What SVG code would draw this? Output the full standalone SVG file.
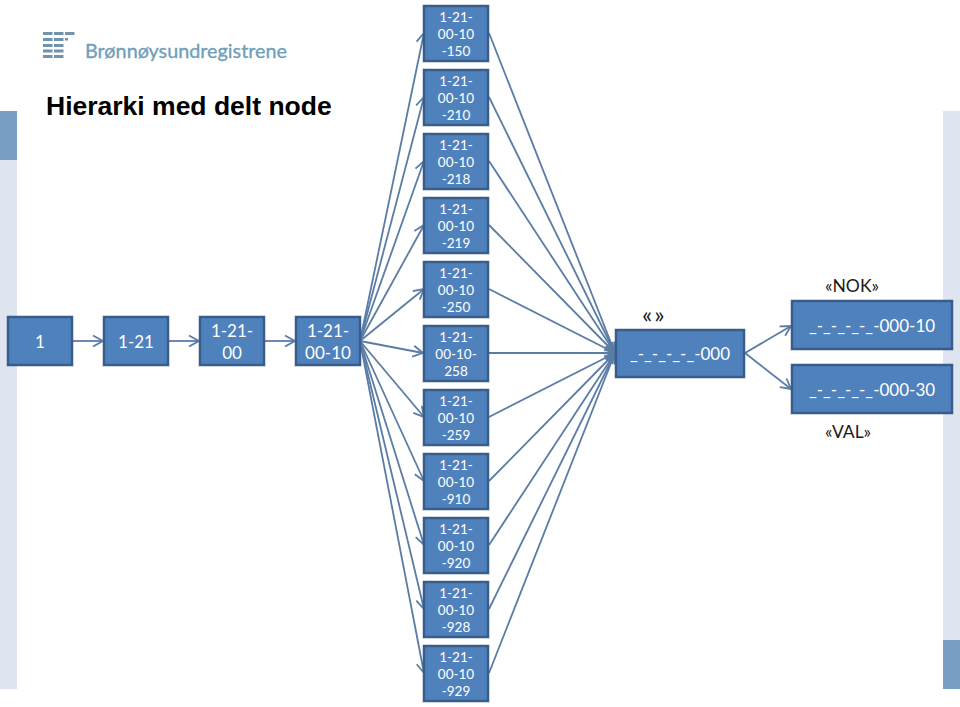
<svg xmlns="http://www.w3.org/2000/svg" width="960" height="707" viewBox="0 0 960 707">
<style>
.n{fill:#4f81bd;stroke:#385d8a;stroke-width:2.5}
.t{font-family:Lato,"Open Sans",sans-serif;fill:#fff;text-anchor:middle}
.s{font-size:13.5px}
.m{font-size:17px}
.l{font-family:Lato,"Open Sans",sans-serif;fill:#1a1a1a;font-size:17.5px}
.c{stroke:#5a7ca5;stroke-width:1.8;fill:none;marker-end:url(#a)}
.b{fill:#7094ac}
</style>
<defs>
<marker id="a" markerUnits="userSpaceOnUse" markerWidth="16" markerHeight="16" refX="10" refY="5.5" orient="auto" overflow="visible">
<path d="M0 0L10 5.5L0 11" fill="none" stroke="#5a7ca5" stroke-width="1.8"/>
</marker>
</defs>
<rect width="960" height="707" fill="#fff"/>
<g id="sidebars">
<rect x="0" y="111" width="17" height="49" fill="#7a9fc4"/>
<rect x="0" y="160" width="17" height="529" fill="#dfe5f0"/>
<rect x="943" y="111" width="17" height="529" fill="#dfe5f0"/>
<rect x="943" y="640" width="17" height="49" fill="#7a9fc4"/>
</g>
<g id="logo">
<path class="b" d="M43 32h9.500v3H43zM54 32h9.500v3H54zM65 32h9.500v3H65zM43 38h9.500v3H43zM54 38h9.500v3H54zM65 38h3v2.500H65zM43 44h9.500v3H43zM54 44h9.500v3H54zM43 49.500h9.500v3H43zM54 49.500h9.500v3H54zM43 55h9.500v3H43zM54 55h9.500v3H54z"/>
<text x="85" y="57.500" font-family="Lato,'Open Sans',sans-serif" font-size="20" fill="#6f9fba" stroke="#6f9fba" stroke-width="0.35" textLength="202" lengthAdjust="spacingAndGlyphs">Brønnøysundregistrene</text>
</g>
<text id="title" x="46" y="115" font-family="'Liberation Sans',Arial,sans-serif" font-weight="700" font-size="26.5" fill="#000">Hierarki med delt node</text>
<g id="connectors">
<path class="c" d="M73 341H103"/><path class="c" d="M169 341H199"/><path class="c" d="M265 341H295"/>
<path class="c" d="M360 341L424 33"/><path class="c" d="M360 341L424 97"/><path class="c" d="M360 341L424 161"/><path class="c" d="M360 341L424 225"/><path class="c" d="M360 341L424 289"/><path class="c" d="M360 341L423 353"/><path class="c" d="M360 341L424 417"/><path class="c" d="M360 341L424 481"/><path class="c" d="M360 341L424 545"/><path class="c" d="M360 341L424 609"/><path class="c" d="M360 341L424 673"/>
<path class="c" d="M489 33L615 353"/><path class="c" d="M489 97L615 353"/><path class="c" d="M489 161L615 353"/><path class="c" d="M489 225L615 353"/><path class="c" d="M489 289L615 353"/><path class="c" d="M489 353H615"/><path class="c" d="M489 417L615 353"/><path class="c" d="M489 481L615 353"/><path class="c" d="M489 545L615 353"/><path class="c" d="M489 609L615 353"/><path class="c" d="M489 673L615 353"/>
<path class="c" d="M745 353L791 326"/><path class="c" d="M745 353L791 389"/>
</g>
<g id="n1"><rect class="n" x="8" y="317" width="64" height="48"/><text class="t m" x="40" y="348">1</text></g>
<g id="n2"><rect class="n" x="104" y="317" width="64" height="48"/><text class="t m" x="136" y="348">1-21</text></g>
<g id="n3"><rect class="n" x="200" y="317" width="64" height="48"/><text class="t m" x="232" y="337">1-21-</text><text class="t m" x="232" y="359">00</text></g>
<g id="n4"><rect class="n" x="296" y="317" width="64" height="48"/><text class="t m" x="328" y="337">1-21-</text><text class="t m" x="328" y="359">00-10</text></g>
<g id="m150"><rect class="n" x="424" y="6" width="64" height="55"/><text class="t s" x="456" y="22">1-21-</text><text class="t s" x="456" y="39">00-10</text><text class="t s" x="456" y="56">-150</text></g>
<g id="m210"><rect class="n" x="424" y="70" width="64" height="55"/><text class="t s" x="456" y="86">1-21-</text><text class="t s" x="456" y="103">00-10</text><text class="t s" x="456" y="120">-210</text></g>
<g id="m218"><rect class="n" x="424" y="134" width="64" height="55"/><text class="t s" x="456" y="150">1-21-</text><text class="t s" x="456" y="167">00-10</text><text class="t s" x="456" y="184">-218</text></g>
<g id="m219"><rect class="n" x="424" y="198" width="64" height="55"/><text class="t s" x="456" y="214">1-21-</text><text class="t s" x="456" y="231">00-10</text><text class="t s" x="456" y="248">-219</text></g>
<g id="m250"><rect class="n" x="424" y="262" width="64" height="55"/><text class="t s" x="456" y="278">1-21-</text><text class="t s" x="456" y="295">00-10</text><text class="t s" x="456" y="312">-250</text></g>
<g id="m258"><rect class="n" x="424" y="326" width="64" height="55"/><text class="t s" x="456" y="342">1-21-</text><text class="t s" x="456" y="359">00-10-</text><text class="t s" x="456" y="376">258</text></g>
<g id="m259"><rect class="n" x="424" y="390" width="64" height="55"/><text class="t s" x="456" y="406">1-21-</text><text class="t s" x="456" y="423">00-10</text><text class="t s" x="456" y="440">-259</text></g>
<g id="m910"><rect class="n" x="424" y="454" width="64" height="55"/><text class="t s" x="456" y="470">1-21-</text><text class="t s" x="456" y="487">00-10</text><text class="t s" x="456" y="504">-910</text></g>
<g id="m920"><rect class="n" x="424" y="518" width="64" height="55"/><text class="t s" x="456" y="534">1-21-</text><text class="t s" x="456" y="551">00-10</text><text class="t s" x="456" y="568">-920</text></g>
<g id="m928"><rect class="n" x="424" y="582" width="64" height="55"/><text class="t s" x="456" y="598">1-21-</text><text class="t s" x="456" y="615">00-10</text><text class="t s" x="456" y="632">-928</text></g>
<g id="m929"><rect class="n" x="424" y="646" width="64" height="55"/><text class="t s" x="456" y="662">1-21-</text><text class="t s" x="456" y="679">00-10</text><text class="t s" x="456" y="696">-929</text></g>
<g id="main"><rect class="n" x="616" y="330" width="128" height="47"/><text class="t m" x="680" y="360">_-_-_-_-_-000</text></g>
<g id="nok"><rect class="n" x="792" y="301" width="160" height="48"/><text class="t m" x="872" y="332">_-_-_-_-_-000-10</text></g>
<g id="val"><rect class="n" x="792" y="365" width="160" height="48"/><text class="t m" x="872" y="396">_-_-_-_-_-000-30</text></g>
<text class="l" x="642" y="323" style="font-size:24px;letter-spacing:2px">«»</text>
<text class="l" x="825" y="292">«NOK»</text>
<text class="l" x="825" y="438">«VAL»</text>
</svg>
